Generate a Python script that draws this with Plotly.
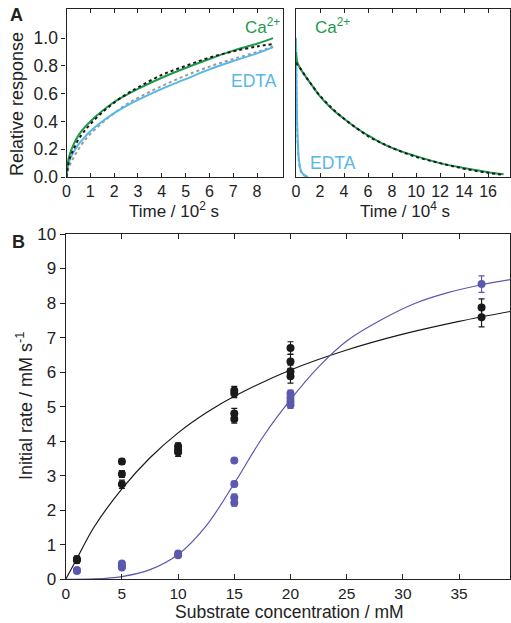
import plotly.graph_objects as go

W, H = 511, 623
FONT = "Liberation Sans, Arial, sans-serif"

# ---------- Panel A (left): short time scale, time in 10^2 s ----------
tA = [0, 0.05, 0.15, 0.3, 0.5, 0.75, 1, 1.5, 2, 2.5, 3, 4, 5, 6, 7, 8, 8.67]
caA = [0, 0.10, 0.17, 0.235, 0.30, 0.355, 0.40, 0.475, 0.54, 0.59, 0.635, 0.715, 0.785, 0.85, 0.91, 0.96, 1.0]
caFitA = [0, 0.07, 0.14, 0.20, 0.27, 0.33, 0.38, 0.465, 0.535, 0.595, 0.645, 0.735, 0.80, 0.86, 0.905, 0.94, 0.958]
edtaA = [0, 0.07, 0.13, 0.18, 0.235, 0.285, 0.33, 0.40, 0.46, 0.51, 0.555, 0.635, 0.705, 0.775, 0.835, 0.89, 0.935]
edtaFitA = [0, 0.04, 0.09, 0.14, 0.20, 0.26, 0.31, 0.39, 0.46, 0.52, 0.57, 0.655, 0.73, 0.795, 0.85, 0.90, 0.94]

# ---------- Panel A (right): long time scale, time in 10^4 s ----------
tR = [0, 0.02, 0.1, 0.3, 0.6, 1, 1.5, 2, 3, 4, 5, 6, 7, 8, 10, 12, 14, 16, 17.3]
caR = [0.90, 0.88, 0.83, 0.79, 0.75, 0.70, 0.64, 0.58, 0.49, 0.42, 0.355, 0.30, 0.25, 0.21, 0.15, 0.10, 0.065, 0.035, 0.02]
caFitR = [0.82, 0.82, 0.81, 0.79, 0.75, 0.70, 0.64, 0.585, 0.495, 0.42, 0.355, 0.295, 0.25, 0.21, 0.145, 0.10, 0.06, 0.03, 0.015]
tE = [0, 0.03, 0.08, 0.15, 0.25, 0.4, 0.6, 0.8, 1.0]
edtaR = [1.0, 0.75, 0.45, 0.25, 0.12, 0.05, 0.02, 0.01, 0.0]
edtaFitR = [1.0, 0.70, 0.42, 0.22, 0.10, 0.04, 0.015, 0.005, 0.0]

# ---------- Panel B: initial rate vs substrate ----------
blkX = [1, 1, 5, 5, 5, 10, 10, 10, 15, 15, 15, 15, 20, 20, 20, 20, 37, 37]
blkY = [0.59, 0.55, 3.41, 3.05, 2.75, 3.85, 3.76, 3.68, 5.47, 5.38, 4.80, 4.64, 6.70, 6.31, 6.02, 5.88, 7.87, 7.59]
blkErr = [0.08, 0.08, 0.08, 0.10, 0.12, 0.10, 0.12, 0.12, 0.12, 0.12, 0.15, 0.12, 0.18, 0.20, 0.18, 0.20, 0.25, 0.28]
bluX = [1, 1, 5, 5, 5, 10, 10, 15, 15, 15, 15, 20, 20, 20, 20, 37]
bluY = [0.27, 0.24, 0.46, 0.38, 0.34, 0.75, 0.70, 3.44, 2.76, 2.37, 2.22, 5.38, 5.26, 5.15, 5.05, 8.55]
bluErr = [0.05, 0.05, 0.05, 0.05, 0.05, 0.06, 0.06, 0.06, 0.08, 0.10, 0.10, 0.10, 0.10, 0.10, 0.10, 0.24]
fitBlkX = [0, 0.5, 1, 2.5, 5, 7.5, 10, 12.5, 15, 20, 25, 30, 35, 39.6]
fitBlkY = [0, 0.30, 0.60, 1.50, 2.62, 3.52, 4.24, 4.82, 5.30, 6.06, 6.64, 7.10, 7.47, 7.76]
fitBluX = [0, 2.5, 5, 7.5, 10, 12.5, 15, 17.5, 20, 22.5, 25, 28, 31, 34, 37, 39.6]
fitBluY = [0, 0.01, 0.08, 0.28, 0.72, 1.55, 2.78, 4.10, 5.20, 6.15, 6.90, 7.50, 7.98, 8.30, 8.53, 8.68]

GREEN = "#1c9a4b"
LBLUE = "#56b8e6"
GRAY = "#9a9a9a"
BLACK = "#1a1a1a"
PURP = "#5b58b0"

def px_x(p):
    return p / W

def px_y(p):
    return 1 - p / H

fig = go.Figure()

def line(x, y, color, dash="solid", width=2, xa="x", ya="y"):
    fig.add_trace(go.Scatter(x=x, y=y, mode="lines", line=dict(color=color, width=width, dash=dash, shape="spline"),
                             xaxis=xa, yaxis=ya, showlegend=False, hoverinfo="skip"))

# left panel A
line(tA, edtaFitA, GRAY, "dot", 2)
line(tA, edtaA, LBLUE, "solid", 2)
line(tA, caA, GREEN, "solid", 2)
line(tA, caFitA, BLACK, "dot", 2)
# right panel A
line(tE, edtaFitR, GRAY, "dot", 2, "x2", "y2")
line(tE, edtaR, LBLUE, "solid", 2, "x2", "y2")
line(tR, caR, GREEN, "solid", 2, "x2", "y2")
line(tR, caFitR, BLACK, "dot", 2, "x2", "y2")

# panel B fits
line(fitBlkX, fitBlkY, BLACK, "solid", 1.2, "x3", "y3")
line(fitBluX, fitBluY, PURP, "solid", 1.2, "x3", "y3")
# panel B points
fig.add_trace(go.Scatter(x=bluX, y=bluY, mode="markers", marker=dict(color=PURP, size=8),
                         error_y=dict(type="data", array=bluErr, color=PURP, thickness=1.2, width=3),
                         xaxis="x3", yaxis="y3", showlegend=False))
fig.add_trace(go.Scatter(x=blkX, y=blkY, mode="markers", marker=dict(color=BLACK, size=8),
                         error_y=dict(type="data", array=blkErr, color=BLACK, thickness=1.2, width=3),
                         xaxis="x3", yaxis="y3", showlegend=False))

def axc(size, ticklen=4):
    return dict(showline=True, linecolor="#222", linewidth=1.2, showgrid=False, zeroline=False,
                tickcolor="#222", ticklen=ticklen, tickwidth=1, automargin=False,
                tickfont=dict(family=FONT, size=size, color="#222"))

yA = [0, 0.2, 0.4, 0.6, 0.8, 1.0]
yAtxt = ["0.0", "0.2", "0.4", "0.6", "0.8", "1.0"]

fig.update_layout(
    width=W, height=H, margin=dict(l=0, r=0, t=0, b=0, pad=0, autoexpand=False), autosize=False,
    paper_bgcolor="white", plot_bgcolor="white",
    font=dict(family=FONT, color="#222"),
    xaxis=dict(domain=[px_x(66.5), px_x(283)], range=[0, 9.09], tickvals=list(range(9)),
               ticks="inside", mirror="ticks", anchor="y", **axc(16)),
    yaxis=dict(domain=[px_y(177), px_y(9)], range=[0, 1.21], tickvals=yA, ticktext=yAtxt,
               ticks="outside", mirror=True, anchor="x", **axc(17.5)),
    yaxis4=dict(overlaying="y", side="right", anchor="x", range=[0, 1.21], tickvals=yA,
                ticks="inside", showticklabels=False, showline=False, showgrid=False, zeroline=False,
                tickcolor="#222", ticklen=4, automargin=False),
    xaxis2=dict(domain=[px_x(296), px_x(510)], range=[0, 17.83], tickvals=list(range(0, 17, 2)),
                ticks="inside", mirror="ticks", anchor="y2", **axc(16)),
    yaxis2=dict(domain=[px_y(177), px_y(9)], range=[0, 1.21], tickvals=yA,
                showticklabels=False, ticks="", mirror=True, anchor="x2", automargin=False,
                showline=True, linecolor="#222", linewidth=1.2, showgrid=False, zeroline=False),
    xaxis3=dict(domain=[px_x(65.7), px_x(510)], range=[0, 39.53], tickvals=[0, 5, 10, 15, 20, 25, 30, 35],
                ticks="inside", mirror="ticks", anchor="y3", **axc(15.5, 5)),
    yaxis3=dict(domain=[px_y(579.3), px_y(234)], range=[0, 10], tickvals=list(range(11)),
                ticks="outside", mirror=True, anchor="x3", **axc(17, 5)),
    yaxis5=dict(overlaying="y3", side="right", anchor="x3", range=[0, 10], tickvals=list(range(11)),
                ticks="inside", showticklabels=False, showline=False, showgrid=False, zeroline=False,
                tickcolor="#222", ticklen=5, automargin=False),
)

def ann(text, x, y, size=16, color="#222", bold=False, angle=0):
    if bold:
        text = "<b>" + text + "</b>"
    fig.add_annotation(text=text, x=px_x(x), y=px_y(y), xref="paper", yref="paper",
                       showarrow=False, xanchor="center", yanchor="middle", textangle=angle,
                       font=dict(family=FONT, size=size, color=color))

ann("A", 16, 15, 18, bold=True)
ann("B", 18, 242, 18, bold=True)
ann("Ca<sup>2+</sup>", 262, 26, 17, GREEN)
ann("EDTA", 254, 81, 17.5, LBLUE)
ann("Ca<sup>2+</sup>", 332, 26, 17, GREEN)
ann("EDTA", 333, 163, 17.5, LBLUE)
ann("Time / 10<sup>2</sup> s", 174, 209.5, 17)
ann("Time / 10<sup>4</sup> s", 405, 209.5, 17)
ann("Relative response", 17, 104, 18, angle=-90)
ann("Initial rate / mM s<sup>-1</sup>", 24, 406, 18, angle=-90)
ann("Substrate concentration / mM", 289, 612, 17.5)

fig.write_html("out.html", config={"responsive": False, "displayModeBar": False},
               post_script="document.body.style.margin='0';document.body.style.overflow='hidden';")
